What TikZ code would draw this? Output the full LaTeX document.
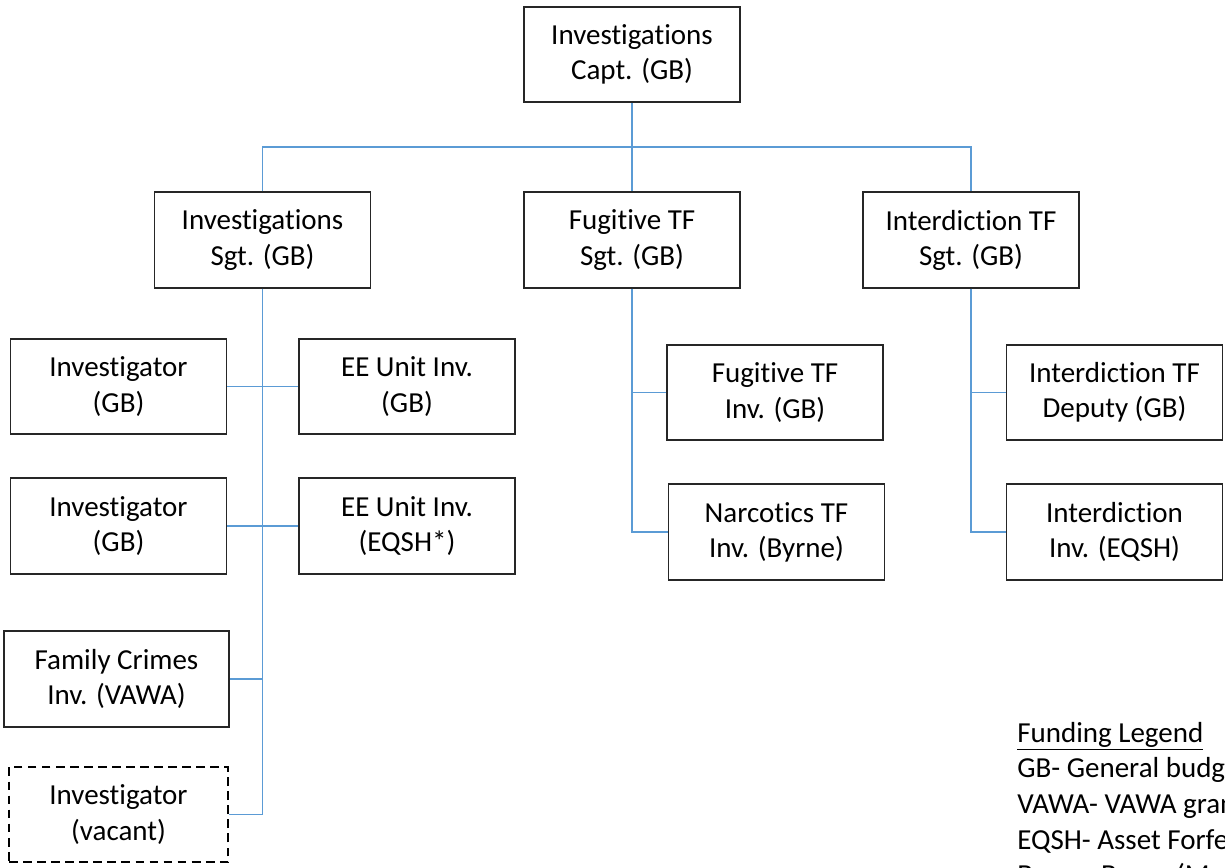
\documentclass[tikz,border=0pt]{standalone}
\usepackage{fontspec}
\setmainfont{Carlito}[Ligatures={NoCommon}]
\definecolor{linkblue}{RGB}{91,155,213}
\tikzset{
	box/.style={draw=black!85, line width=1pt, minimum width=4.32cm, minimum height=1.91cm, align=center, inner sep=0pt},
	vacantbox/.style={box, draw=black, line width=1.3pt, dash pattern=on 5pt off 3pt},
	link/.style={draw=linkblue, line width=0.8pt},
	legendline/.style={anchor=base west, inner sep=0pt}
}
\begin{document}
\begin{tikzpicture}[x=0.02cm, y=-0.02cm, font=\fontsize{16.5}{20}\selectfont]
	\useasboundingbox (0,0) rectangle (1225,867);
	\clip (0,0) rectangle (1225,867);
	% top
	\node[box] (capt) at (632,54.5) {Investigations\\Capt. (GB)};
	% sergeants
	\node[box] (isgt) at (262.5,240) {Investigations\\Sgt. (GB)};
	\node[box] (fsgt) at (632,240) {Fugitive TF\\Sgt. (GB)};
	\node[box] (intsgt) at (971,240) {Interdiction TF\\Sgt. (GB)};
	% investigations unit
	\node[box] (inv1) at (118.5,386.5) {Investigator\\(GB)};
	\node[box] (ee1) at (407,386.5) {EE Unit Inv.\\(GB)};
	\node[box] (inv2) at (118.5,526) {Investigator\\(GB)};
	\node[box] (ee2) at (407,526) {EE Unit Inv.\\(EQSH*)};
	\node[box, minimum width=4.5cm] (family) at (116.5,679) {Family Crimes\\Inv. (VAWA)};
	\node[vacantbox, minimum width=4.38cm] (vacant) at (118.5,814.5) {Investigator\\(vacant)};
	% task forces
	\node[box] (fuginv) at (775,392.5) {Fugitive TF\\Inv. (GB)};
	\node[box] (narc) at (776.5,532) {Narcotics TF\\Inv. (Byrne)};
	\node[box] (intdep) at (1114.5,392.5) {Interdiction TF\\Deputy (GB)};
	\node[box] (intinv) at (1114.5,532) {Interdiction\\Inv. (EQSH)};
	% connectors
	\coordinate (bus) at (632,147);
	\draw[link] (capt.south) -- (bus);
	\draw[link] (isgt.north) |- (bus) -| (intsgt.north);
	\draw[link] (bus) -- (fsgt.north);
	\draw[link] (isgt.south) -- (isgt.south |- vacant.east);
	\draw[link] (inv1.east) -- (ee1.west);
	\draw[link] (inv2.east) -- (ee2.west);
	\draw[link] (family.east) -- (family.east -| isgt.south);
	\draw[link] (vacant.east) -- (vacant.east -| isgt.south);
	\draw[link] (fsgt.south) |- (narc.west);
	\draw[link] (fsgt.south |- fuginv.west) -- (fuginv.west);
	\draw[link] (intsgt.south) |- (intinv.west);
	\draw[link] (intsgt.south |- intdep.west) -- (intdep.west);
	% legend
	\node[legendline] (leg0) at (1017,742) {\underline{Funding Legend}};
	\node[legendline] (leg1) at (1017,777) {GB- General budget};
	\node[legendline] (leg2) at (1017,813) {VAWA- VAWA grant};
	\node[legendline] (leg3) at (1017,849) {EQSH- Asset Forfeiture};
	\node[legendline] (leg4) at (1017,884.5) {Byrne- Byrne (Multi-jurisdictional)};
\end{tikzpicture}
\end{document}
